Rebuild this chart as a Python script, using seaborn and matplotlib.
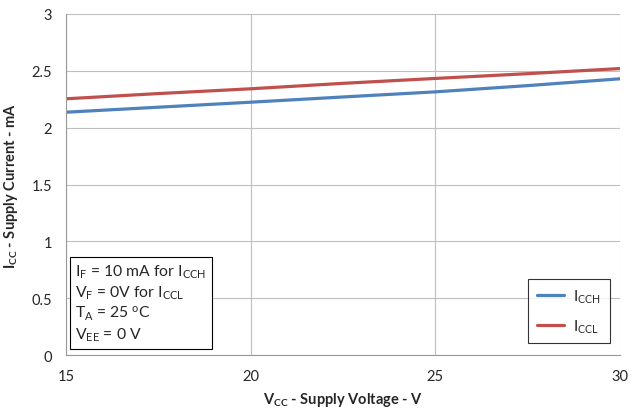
import pandas as pd
import matplotlib
matplotlib.use("Agg")
import matplotlib.pyplot as plt
import seaborn as sns

# 데이터
vcc = [15, 17.5, 20, 22.5, 25, 27.5, 30]
icch = [2.136, 2.18, 2.224, 2.27, 2.315, 2.37, 2.43]
iccl = [2.254, 2.30, 2.342, 2.39, 2.433, 2.475, 2.52]
series_names = [r"$\mathrm{I_{CCH}}$", r"$\mathrm{I_{CCL}}$"]
colors = ["#4F81BD", "#C0504D"]
x_ticks = [15, 20, 25, 30]
y_ticks = [0, 0.5, 1, 1.5, 2, 2.5, 3]
y_tick_labels = ["0", "0.5", "1", "1.5", "2", "2.5", "3"]

sns.set_style("white")
plt.rcParams["font.family"] = ["Lato", "DejaVu Sans"]
plt.rcParams["mathtext.fontset"] = "custom"
plt.rcParams["mathtext.rm"] = "Lato"
plt.rcParams["mathtext.it"] = "Lato:italic"
plt.rcParams["mathtext.bf"] = "Lato:bold"

df = pd.concat([
    pd.DataFrame({"Vcc": vcc, "Icc": icch, "series": series_names[0]}),
    pd.DataFrame({"Vcc": vcc, "Icc": iccl, "series": series_names[1]}),
], ignore_index=True)

fig = plt.figure(figsize=(6.32, 4.14), dpi=100)
ax = fig.add_axes([0.1044, 0.140, 0.8766, 0.8238])

sns.lineplot(data=df, x="Vcc", y="Icc", hue="series", palette=colors,
             linewidth=2.3, ax=ax, legend=False)

ax.set_xlim(15, 30)
ax.set_ylim(0, 3)
ax.set_xticks(x_ticks)
ax.set_xticklabels([str(t) for t in x_ticks])
ax.set_yticks(y_ticks)
ax.set_yticklabels(y_tick_labels)
ax.grid(True, color="#BFBFBF", linewidth=0.8)
ax.set_axisbelow(True)
for side in ["top", "right"]:
    ax.spines[side].set_visible(False)
for side in ["left", "bottom"]:
    ax.spines[side].set_color("#999999")
    ax.spines[side].set_linewidth(0.8)
ax.tick_params(axis="both", which="major", length=4, width=0.8, color="#999999",
               labelsize=10.5, pad=6)

ax.set_xlabel(r"$\mathbf{V_{CC}}$ - Supply Voltage - V", fontsize=10.5,
              fontweight="bold", labelpad=5)
ax.set_ylabel(r"$\mathbf{I_{CC}}$ - Supply Current - mA", fontsize=10.5,
              fontweight="bold", labelpad=8)

# 조건 박스
cond = (r"$\mathrm{I_F}$ = 10 mA for $\mathrm{I_{CCH}}$" + "\n"
        + r"$\mathrm{V_F}$ = 0V for $\mathrm{I_{CCL}}$" + "\n"
        + r"$\mathrm{T_A}$ = 25 $^{\mathrm{o}}$C" + "\n"
        + r"$\mathrm{V_{EE}}$ = 0 V")
ax.text(0.017, 0.035, cond, transform=ax.transAxes, fontsize=11.3,
        va="bottom", ha="left", linespacing=1.25,
        bbox=dict(boxstyle="square,pad=0.35", facecolor="white",
                  edgecolor="black", linewidth=0.8))

# 범례
handles = [plt.Line2D([0], [0], color=c, lw=2.3) for c in colors]
leg = ax.legend(handles, series_names, loc="lower right",
                bbox_to_anchor=(0.995, 0.012), fontsize=11, frameon=True,
                fancybox=False, edgecolor="black", handlelength=1.8,
                borderpad=0.55, labelspacing=0.85, handletextpad=0.6)
leg.get_frame().set_linewidth(0.8)

fig.savefig("out.png", dpi=100)
plt.close(fig)
